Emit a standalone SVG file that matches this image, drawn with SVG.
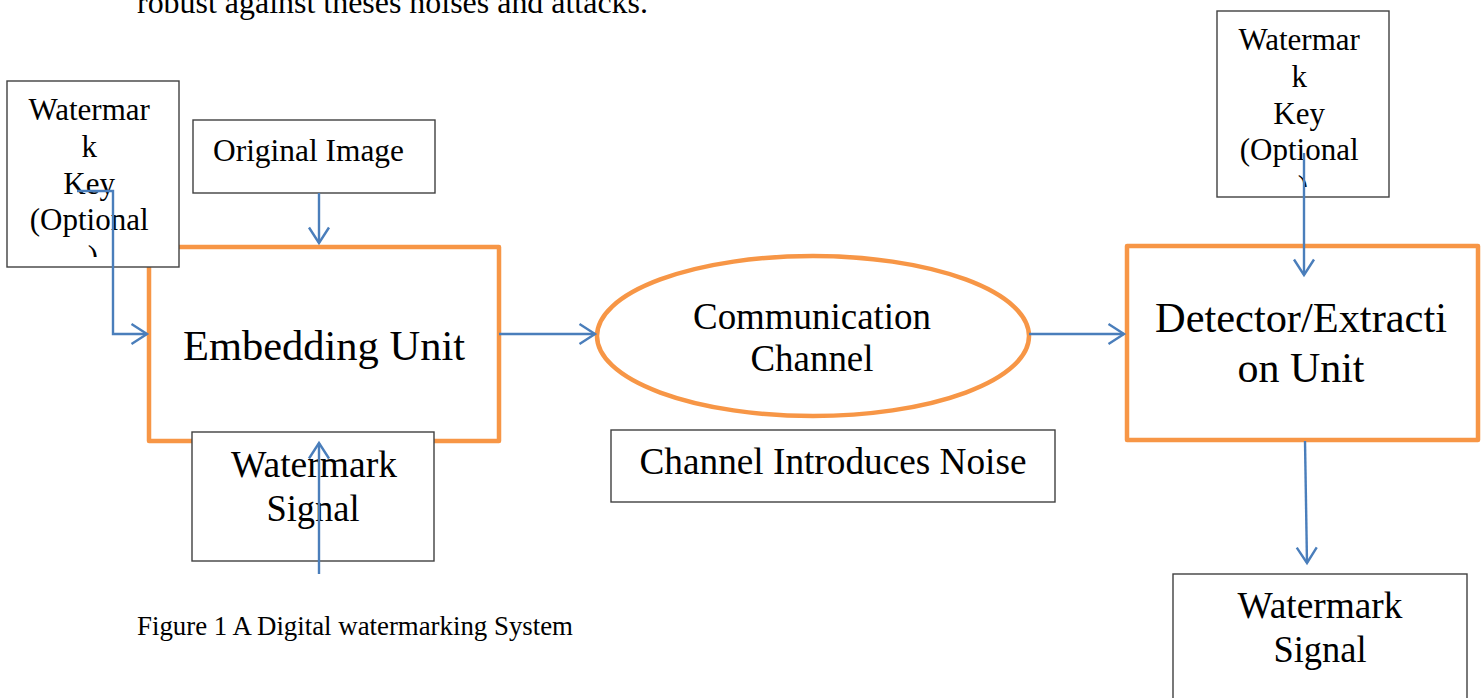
<svg xmlns="http://www.w3.org/2000/svg" width="1482" height="698" viewBox="0 0 1482 698">
<style>
.t{font-family:"Liberation Serif","Times New Roman",serif;fill:#000;}
.box{fill:#fff;stroke:#404040;stroke-width:1.4;}
.unit{fill:#fff;stroke:#F79646;stroke-width:4.5;stroke-linejoin:round;}
.conn{fill:none;stroke:#4A7EBB;stroke-width:2.4;}
</style>
<defs>
<marker id="ah" markerUnits="userSpaceOnUse" markerWidth="24" markerHeight="26" refX="17" refY="12" orient="auto">
<path d="M1.5,2 L17,12 L1.5,22" fill="none" stroke="#4A7EBB" stroke-width="2.4"/>
</marker>
<clipPath id="clipL"><rect x="7" y="81" width="172" height="176"/></clipPath>
<clipPath id="clipR"><rect x="1217" y="11" width="172" height="176"/></clipPath>
</defs>
<rect width="1482" height="698" fill="#fff"/>
<text class="t" x="137" y="13" font-size="31" textLength="511" lengthAdjust="spacingAndGlyphs">robust against theses noises and attacks.</text>
<g id="embedding-unit">
<rect class="unit" x="149" y="247" width="350" height="194"/>
<text class="t" x="324" y="360" font-size="43" text-anchor="middle" textLength="282" lengthAdjust="spacingAndGlyphs">Embedding Unit</text>
</g>
<g id="watermark-key-left">
<rect class="box" x="7" y="81" width="172" height="186"/>
<g clip-path="url(#clipL)">
<text class="t" font-size="31" text-anchor="middle">
<tspan x="93" y="120">Watermar</tspan>
<tspan x="93" y="157">k</tspan>
<tspan x="93" y="194">Key</tspan>
<tspan x="93" y="230">(Optional</tspan>
<tspan x="93" y="267">)</tspan>
</text>
</g>
</g>
<g id="original-image">
<rect class="box" x="193" y="120" width="242" height="73"/>
<text class="t" x="213" y="161" font-size="31" textLength="191" lengthAdjust="spacingAndGlyphs">Original Image</text>
</g>
<g id="watermark-signal-left">
<rect class="box" x="192" y="432" width="242" height="129"/>
<text class="t" x="314" y="477" font-size="38" text-anchor="middle" textLength="166" lengthAdjust="spacingAndGlyphs">Watermark</text>
<text class="t" x="313" y="521" font-size="38" text-anchor="middle" textLength="93" lengthAdjust="spacingAndGlyphs">Signal</text>
</g>
<g id="communication-channel">
<ellipse cx="813" cy="336" rx="216" ry="80" fill="#fff" stroke="#F79646" stroke-width="4.5"/>
<text class="t" x="812" y="329" font-size="38" text-anchor="middle" textLength="238" lengthAdjust="spacingAndGlyphs">Communication</text>
<text class="t" x="812" y="371" font-size="38" text-anchor="middle" textLength="123" lengthAdjust="spacingAndGlyphs">Channel</text>
</g>
<g id="channel-noise">
<rect class="box" x="611" y="430" width="444" height="72"/>
<text class="t" x="833" y="474" font-size="38" text-anchor="middle" textLength="387" lengthAdjust="spacingAndGlyphs">Channel Introduces Noise</text>
</g>
<g id="detector-unit">
<rect class="unit" x="1127" y="246" width="351" height="194"/>
<text class="t" x="1301" y="332" font-size="43" text-anchor="middle" textLength="292" lengthAdjust="spacingAndGlyphs">Detector/Extracti</text>
<text class="t" x="1301" y="382" font-size="43" text-anchor="middle" textLength="127" lengthAdjust="spacingAndGlyphs">on Unit</text>
</g>
<g id="watermark-key-right">
<rect class="box" x="1217" y="11" width="172" height="186"/>
<g clip-path="url(#clipR)">
<text class="t" font-size="31" text-anchor="middle">
<tspan x="1303" y="50">Watermar</tspan>
<tspan x="1303" y="87">k</tspan>
<tspan x="1303" y="124">Key</tspan>
<tspan x="1303" y="160">(Optional</tspan>
<tspan x="1303" y="197">)</tspan>
</text>
</g>
</g>
<g id="watermark-signal-right">
<rect class="box" x="1173" y="574" width="294" height="140"/>
<text class="t" x="1320" y="618" font-size="38" text-anchor="middle" textLength="165" lengthAdjust="spacingAndGlyphs">Watermark</text>
<text class="t" x="1320" y="662" font-size="38" text-anchor="middle" textLength="93" lengthAdjust="spacingAndGlyphs">Signal</text>
</g>
<text class="t" x="137" y="635" font-size="26.5" textLength="436" lengthAdjust="spacingAndGlyphs">Figure 1 A Digital watermarking System</text>
<g id="connectors">
<polyline class="conn" points="77,191 113,191 113,334 147,334" marker-end="url(#ah)"/>
<line class="conn" x1="319" y1="193" x2="319" y2="243" marker-end="url(#ah)"/>
<line class="conn" x1="319" y1="574" x2="319" y2="443" marker-end="url(#ah)"/>
<line class="conn" x1="499" y1="334" x2="595" y2="334" marker-end="url(#ah)"/>
<line class="conn" x1="1029" y1="334" x2="1124" y2="334" marker-end="url(#ah)"/>
<line class="conn" x1="1304" y1="153" x2="1304" y2="275" marker-end="url(#ah)"/>
<line class="conn" x1="1305" y1="441" x2="1307" y2="563" marker-end="url(#ah)"/>
</g>
</svg>
